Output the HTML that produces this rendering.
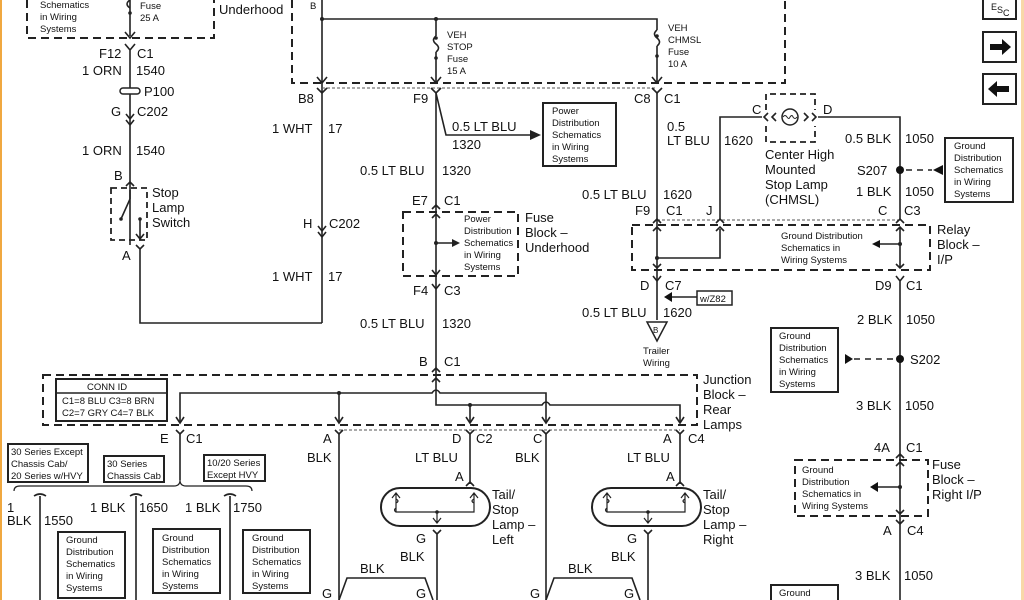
<!DOCTYPE html>
<html><head><meta charset="utf-8"><style>
html,body{margin:0;padding:0;background:#fff;width:1024px;height:600px;overflow:hidden}
svg{display:block}
text{font-family:"Liberation Sans",sans-serif;fill:#111}
.l{font-size:13px}
.s{font-size:9.5px}
.w{stroke:#222;stroke-width:1.6;fill:none}
.d{stroke:#222;stroke-width:2;fill:none;stroke-dasharray:8,5}
.t{stroke:#555;stroke-width:1;fill:none;stroke-dasharray:3,2}
.b{stroke:#222;stroke-width:2;fill:#fff}
</style></head><body>
<svg width="1024" height="600" viewBox="0 0 1024 600" xmlns="http://www.w3.org/2000/svg">
<rect x="0" y="0" width="2" height="600" fill="#f0a840"/>
<rect x="1021" y="0" width="3" height="600" fill="#f8d8a8"/>

<!-- top-left -->
<path class="d" d="M27 0 V38 H214 V0"/>
<text class="s" x="40" y="8">Schematics</text><text class="s" x="40" y="20">in Wiring</text><text class="s" x="40" y="32">Systems</text>
<path class="w" d="M130 0 V36 M125 32 L130 38 L135 32"/>
<path class="w" d="M130 0 q-6 4 0 8" /><circle cx="130" cy="13" r="1.8" fill="#222"/>
<text class="s" x="140" y="9">Fuse</text><text class="s" x="140" y="21">25 A</text>
<text class="l" x="219" y="14">Underhood</text>
<text class="l" x="99" y="58">F12</text><text class="l" x="137" y="58">C1</text>
<path class="w" d="M125 44 L130 50 L135 44 M130 50 V245"/>
<text class="l" x="82" y="75">1 ORN</text><text class="l" x="136" y="75">1540</text>
<rect x="120" y="88" width="20" height="6" rx="3" fill="#fff" stroke="#222" stroke-width="1.5"/>
<text class="l" x="144" y="96">P100</text>
<text class="l" x="111" y="116">G</text><text class="l" x="137" y="116">C202</text>
<path class="w" d="M126 114 L130 119 L134 114 M126 120 L130 125 L134 120"/>
<text class="l" x="82" y="155">1 ORN</text><text class="l" x="136" y="155">1540</text>
<text class="l" x="114" y="180">B</text>
<path class="w" d="M126 186 L130 182 L134 186"/>
<path class="d" style="stroke-width:1.8;stroke-dasharray:6,4" d="M111 188 H147 V240 H111 Z"/>
<path class="w" d="M130 190 V199 M121 219 L130 199 M140 219 V238 M136 234 L140 239 L144 234"/>
<circle cx="121" cy="219" r="1.8" fill="#222"/><circle cx="140" cy="219" r="1.8" fill="#222"/>
<text class="l" x="152" y="197">Stop</text><text class="l" x="152" y="212">Lamp</text><text class="l" x="152" y="227">Switch</text>
<path class="w" d="M136 245 L140 249 L144 245 M140 249 V323 H322"/>
<text class="l" x="122" y="260">A</text>

<!-- underhood box -->
<path class="d" d="M292 0 V83 H785 V0"/>
<text class="s" x="310" y="9">B</text>
<path class="w" d="M322 0 V323 M322 19 H657 V30 M436 19 V36"/>
<circle cx="322" cy="19" r="2" fill="#222"/><circle cx="436" cy="19" r="2" fill="#222"/>
<path class="w" d="M436 36 q-5 4 0 8 q5 4 0 8 M436 52 V82 M431 77 L436 83 L441 77"/>
<circle cx="436" cy="38" r="1.8" fill="#222"/><circle cx="436" cy="58" r="1.8" fill="#222"/>
<text class="s" x="447" y="38">VEH</text><text class="s" x="447" y="50">STOP</text><text class="s" x="447" y="62">Fuse</text><text class="s" x="447" y="74">15 A</text>
<path class="w" d="M657 30 q-5 4 0 8 q5 4 0 8 M657 46 V82 M652 77 L657 83 L662 77"/>
<circle cx="657" cy="36" r="1.8" fill="#222"/><circle cx="657" cy="56" r="1.8" fill="#222"/>
<text class="s" x="668" y="31">VEH</text><text class="s" x="668" y="43">CHMSL</text><text class="s" x="668" y="55">Fuse</text><text class="s" x="668" y="67">10 A</text>
<path class="w" d="M317 77 L322 83 L327 77"/>
<path class="t" d="M322 88 H657"/>
<path class="w" d="M317 88 L322 93 L327 88 M431 88 L436 93 L441 88 M652 88 L657 93 L662 88"/>
<text class="l" x="298" y="103">B8</text><text class="l" x="413" y="103">F9</text>
<text class="l" x="634" y="103">C8</text><text class="l" x="664" y="103">C1</text>
<text class="l" x="272" y="133">1 WHT</text><text class="l" x="328" y="133">17</text>
<!-- F9 -->
<path class="w" d="M436 93 V385 M436 93 L446 135 H530"/>
<path d="M530 130 L541 135 L530 140 Z" fill="#222"/>
<text class="l" x="452" y="131">0.5 LT BLU</text><text class="l" x="452" y="149">1320</text>
<rect x="543" y="103" width="73" height="63" class="b"/>
<text class="s" x="552" y="114">Power</text><text class="s" x="552" y="126">Distribution</text><text class="s" x="552" y="138">Schematics</text><text class="s" x="552" y="150">in Wiring</text><text class="s" x="552" y="162">Systems</text>
<text class="l" x="360" y="175">0.5 LT BLU</text><text class="l" x="442" y="175">1320</text>
<text class="l" x="412" y="205">E7</text><text class="l" x="444" y="205">C1</text>
<path class="w" d="M432 209 L436 205 L440 209"/>
<path class="d" d="M403 212 H518 V276 H403 Z"/>
<path class="w" d="M432 218 L436 214 L440 218 M432 270 L436 275 L440 270 M436 243 H452"/>
<path d="M452 239 L460 243 L452 247 Z" fill="#222"/><circle cx="436" cy="243" r="2" fill="#222"/>
<text class="s" x="464" y="222">Power</text><text class="s" x="464" y="234">Distribution</text><text class="s" x="464" y="246">Schematics</text><text class="s" x="464" y="258">in Wiring</text><text class="s" x="464" y="270">Systems</text>
<text class="l" x="525" y="222">Fuse</text><text class="l" x="525" y="237">Block –</text><text class="l" x="525" y="252">Underhood</text>
<text class="l" x="303" y="228">H</text><text class="l" x="329" y="228">C202</text>
<path class="w" d="M318 226 L322 231 L326 226 M318 232 L322 237 L326 232"/>
<text class="l" x="272" y="281">1 WHT</text><text class="l" x="328" y="281">17</text>
<text class="l" x="413" y="295">F4</text><text class="l" x="444" y="295">C3</text>
<path class="w" d="M432 284 L436 289 L440 284"/>
<text class="l" x="360" y="328">0.5 LT BLU</text><text class="l" x="442" y="328">1320</text>
<text class="l" x="419" y="366">B</text><text class="l" x="444" y="366">C1</text>
<path class="w" d="M432 372 L436 368 L440 372"/>

<!-- junction block -->
<path class="d" d="M43 375 H697 V425 H43 Z"/>
<path class="w" d="M432 382 L436 378 L440 382"/>
<rect x="56" y="379" width="111" height="42" class="b"/>
<path class="w" d="M56 393 H167"/>
<text class="s" x="87" y="390">CONN ID</text>
<text class="s" x="62" y="404">C1=8 BLU  C3=8 BRN</text><text class="s" x="62" y="416">C2=7 GRY C4=7 BLK</text>
<path class="w" d="M180 422 V393 H432 q4 -6 8 0 H546 V422 M436 385 V405 H542 q4 -6 8 0 H680 V422 M339 393 V422 M470 405 V422"/>
<circle cx="339" cy="393" r="2" fill="#222"/><circle cx="470" cy="405" r="2" fill="#222"/>
<path class="w" d="M176 417 L180 423 L184 417 M335 417 L339 423 L343 417 M466 417 L470 423 L474 417 M542 417 L546 423 L550 417 M676 417 L680 423 L684 417"/>
<text class="l" x="703" y="384">Junction</text><text class="l" x="703" y="399">Block –</text><text class="l" x="703" y="414">Rear</text><text class="l" x="703" y="429">Lamps</text>
<path class="t" d="M339 430 H680"/>
<path class="w" d="M176 430 L180 434 L184 430 M335 430 L339 434 L343 430 M466 430 L470 434 L474 430 M542 430 L546 434 L550 430 M676 430 L680 434 L684 430"/>
<text class="l" x="160" y="443">E</text><text class="l" x="186" y="443">C1</text>
<text class="l" x="323" y="443">A</text><text class="l" x="452" y="443">D</text><text class="l" x="476" y="443">C2</text>
<text class="l" x="533" y="443">C</text><text class="l" x="663" y="443">A</text><text class="l" x="688" y="443">C4</text>
<text class="l" x="307" y="462">BLK</text><text class="l" x="415" y="462">LT BLU</text>
<text class="l" x="515" y="462">BLK</text><text class="l" x="627" y="462">LT BLU</text>
<text class="l" x="455" y="481">A</text><text class="l" x="666" y="481">A</text>
<path class="w" d="M180 434 V480 M339 434 V600 M470 434 V484 M546 434 V600 M680 434 V484"/>
<path class="w" d="M466 486 L470 482 L474 486 M676 486 L680 482 L684 486"/>

<!-- lamps -->
<g id="lamp">
<rect x="381" y="488" width="109" height="38" rx="19" fill="none" stroke="#222" stroke-width="2"/>
<path class="w" style="stroke-width:1.2" d="M396 494 V512 H437 M396 512 q-3 -2 0 -4 M396 503 q4 -2 0 -4 M474 494 V512 H437 M474 503 q-4 -2 0 -4 M437 512 V522 M433 518 L437 523 L441 518 M392 498 L396 493 L400 498 M470 498 L474 493 L478 498"/>
<circle cx="437" cy="512" r="1.8" fill="#222"/>
</g>
<use href="#lamp" x="211"/>
<path class="w" d="M433 530 L437 534 L441 530 M437 534 V600 M644 530 L648 534 L652 530 M648 534 V600"/>
<text class="l" x="492" y="499">Tail/</text><text class="l" x="492" y="514">Stop</text><text class="l" x="492" y="529">Lamp –</text><text class="l" x="492" y="544">Left</text>
<text class="l" x="703" y="499">Tail/</text><text class="l" x="703" y="514">Stop</text><text class="l" x="703" y="529">Lamp –</text><text class="l" x="703" y="544">Right</text>
<text class="l" x="416" y="543">G</text><text class="l" x="400" y="561">BLK</text>
<text class="l" x="627" y="543">G</text><text class="l" x="611" y="561">BLK</text>
<path class="w" d="M339 600 L347 578 H425 L433 600 M546 600 L554 578 H632 L640 600"/>
<text class="l" x="360" y="573">BLK</text><text class="l" x="568" y="573">BLK</text>
<text class="l" x="322" y="598">G</text><text class="l" x="416" y="598">G</text>
<text class="l" x="530" y="598">G</text><text class="l" x="624" y="598">G</text>

<!-- bottom left -->
<rect x="8" y="444" width="80" height="38" class="b"/>
<text class="s" x="11" y="455">30 Series Except</text><text class="s" x="11" y="467">Chassis Cab/</text><text class="s" x="11" y="479">20 Series w/HVY</text>
<rect x="104" y="456" width="60" height="26" class="b"/>
<text class="s" x="107" y="467">30 Series</text><text class="s" x="107" y="479">Chassis Cab</text>
<rect x="204" y="455" width="61" height="26" class="b"/>
<text class="s" x="207" y="466">10/20 Series</text><text class="s" x="207" y="478">Except HVY</text>
<path class="w" style="stroke-width:1.2" d="M14 491 Q14 486 20 486 H174 Q180 486 180 480 Q180 486 186 486 H246 Q252 486 252 491"/>
<path class="w" d="M40 600 V496 M34 496 Q40 492 46 496 M136 600 V496 M130 496 Q136 492 142 496 M230 600 V496 M224 496 Q230 492 236 496"/>
<text class="l" x="7" y="512">1</text><text class="l" x="7" y="525">BLK</text><text class="l" x="44" y="525">1550</text>
<text class="l" x="90" y="512">1 BLK</text><text class="l" x="139" y="512">1650</text>
<text class="l" x="185" y="512">1 BLK</text><text class="l" x="233" y="512">1750</text>
<rect x="58" y="532" width="67" height="66" class="b"/>
<text class="s" x="66" y="543">Ground</text><text class="s" x="66" y="555">Distribution</text><text class="s" x="66" y="567">Schematics</text><text class="s" x="66" y="579">in Wiring</text><text class="s" x="66" y="591">Systems</text>
<rect x="153" y="529" width="67" height="64" class="b"/>
<text class="s" x="162" y="541">Ground</text><text class="s" x="162" y="553">Distribution</text><text class="s" x="162" y="565">Schematics</text><text class="s" x="162" y="577">in Wiring</text><text class="s" x="162" y="589">Systems</text>
<rect x="243" y="530" width="67" height="63" class="b"/>
<text class="s" x="252" y="541">Ground</text><text class="s" x="252" y="553">Distribution</text><text class="s" x="252" y="565">Schematics</text><text class="s" x="252" y="577">in Wiring</text><text class="s" x="252" y="589">Systems</text>

<!-- right side -->
<path class="w" d="M657 93 V320"/>
<text class="l" x="667" y="131">0.5</text><text class="l" x="667" y="145">LT BLU</text><text class="l" x="724" y="145">1620</text>
<path class="d" style="stroke-width:1.8;stroke-dasharray:6,4" d="M766 110 V94 H815 V110 M766 126 V142 H815 V126"/>
<circle cx="790" cy="117" r="8" fill="#fff" stroke="#222" stroke-width="1.5"/>
<path class="w" style="stroke-width:1" d="M783 117 q2 -3 4 0 q2 3 3 0 q2 -3 3 0 q2 3 4 0"/>
<path class="w" d="M720 220 V117 H762 M768 113 L764 117 L768 121 M776 113 L772 117 L776 121 M804 113 L808 117 L804 121 M812 113 L816 117 L812 121 M818 117 H900 V220"/>
<text class="l" x="752" y="114">C</text><text class="l" x="823" y="114">D</text>
<text class="l" x="765" y="159">Center High</text><text class="l" x="765" y="174">Mounted</text><text class="l" x="765" y="189">Stop Lamp</text><text class="l" x="765" y="204">(CHMSL)</text>
<text class="l" x="845" y="143">0.5 BLK</text><text class="l" x="905" y="143">1050</text>
<text class="l" x="857" y="175">S207</text><circle cx="900" cy="170" r="4" fill="#111"/>
<path class="d" style="stroke-width:1.5;stroke-dasharray:6,5" d="M906 170 H932"/>
<path d="M943 165 L933 170 L943 175 Z" fill="#111"/>
<text class="l" x="856" y="196">1 BLK</text><text class="l" x="905" y="196">1050</text>
<rect x="945" y="138" width="68" height="64" class="b"/>
<text class="s" x="954" y="149">Ground</text><text class="s" x="954" y="161">Distribution</text><text class="s" x="954" y="173">Schematics</text><text class="s" x="954" y="185">in Wiring</text><text class="s" x="954" y="197">Systems</text>
<text class="l" x="582" y="199">0.5 LT BLU</text><text class="l" x="663" y="199">1620</text>
<text class="l" x="635" y="215">F9</text><text class="l" x="666" y="215">C1</text>
<text class="l" x="706" y="215">J</text><text class="l" x="878" y="215">C</text><text class="l" x="904" y="215">C3</text>
<path class="t" d="M657 220 H900"/>
<path class="w" d="M653 223 L657 219 L661 223 M716 223 L720 219 L724 223 M896 223 L900 219 L904 223"/>
<path class="d" d="M632 225 H930 V270 H632 Z"/>
<path class="w" d="M653 231 L657 227 L661 231 M716 231 L720 227 L724 231 M720 229 V258 H657 M896 231 L900 227 L904 231 M900 227 V268 M896 264 L900 268 L904 264 M653 264 L657 268 L661 264 M900 244 H880"/>
<path d="M880 240 L872 244 L880 248 Z" fill="#111"/>
<circle cx="657" cy="258" r="2" fill="#222"/><circle cx="900" cy="244" r="2" fill="#222"/>
<text class="s" x="781" y="239">Ground Distribution</text><text class="s" x="781" y="251">Schematics in</text><text class="s" x="781" y="263">Wiring Systems</text>
<text class="l" x="937" y="234">Relay</text><text class="l" x="937" y="249">Block –</text><text class="l" x="937" y="264">I/P</text>
<path class="w" d="M653 276 L657 281 L661 276 M896 276 L900 281 L904 276 M900 281 V600"/>
<text class="l" x="640" y="290">D</text><text class="l" x="665" y="290">C7</text>
<text class="l" x="875" y="290">D9</text><text class="l" x="906" y="290">C1</text>
<path class="w" d="M672 297 H697"/><path d="M672 292 L664 297 L672 302 Z" fill="#111"/>
<rect x="697" y="291" width="35" height="14" class="b" style="stroke-width:1.5"/>
<text class="s" x="700" y="302">w/Z82</text>
<text class="l" x="582" y="317">0.5 LT BLU</text><text class="l" x="663" y="317">1620</text>
<path d="M647 322 H667 L657 341 Z" fill="#fff" stroke="#222" stroke-width="1.5"/>
<text x="653" y="333" style="font-size:8px">B</text>
<text class="s" x="643" y="354">Trailer</text><text class="s" x="643" y="366">Wiring</text>
<text class="l" x="857" y="324">2 BLK</text><text class="l" x="906" y="324">1050</text>
<rect x="771" y="328" width="67" height="64" class="b"/>
<text class="s" x="779" y="339">Ground</text><text class="s" x="779" y="351">Distribution</text><text class="s" x="779" y="363">Schematics</text><text class="s" x="779" y="375">in Wiring</text><text class="s" x="779" y="387">Systems</text>
<path d="M845 354 L853 359 L845 364 Z" fill="#111"/>
<path class="d" style="stroke-width:1.5;stroke-dasharray:6,5" d="M854 359 H896"/>
<circle cx="900" cy="359" r="4" fill="#111"/><text class="l" x="910" y="364">S202</text>
<text class="l" x="856" y="410">3 BLK</text><text class="l" x="905" y="410">1050</text>
<text class="l" x="874" y="452">4A</text><text class="l" x="906" y="452">C1</text>
<path class="w" d="M896 458 L900 454 L904 458"/>
<path class="d" d="M795 460 H928 V516 H795 Z"/>
<path class="w" d="M896 466 L900 462 L904 466 M896 510 L900 514 L904 510 M900 487 H878"/>
<path d="M878 482 L870 487 L878 492 Z" fill="#111"/><circle cx="900" cy="487" r="2" fill="#222"/>
<text class="s" x="802" y="473">Ground</text><text class="s" x="802" y="485">Distribution</text><text class="s" x="802" y="497">Schematics in</text><text class="s" x="802" y="509">Wiring Systems</text>
<text class="l" x="932" y="469">Fuse</text><text class="l" x="932" y="484">Block –</text><text class="l" x="932" y="499">Right I/P</text>
<path class="w" d="M896 520 L900 524 L904 520"/>
<text class="l" x="883" y="535">A</text><text class="l" x="907" y="535">C4</text>
<text class="l" x="855" y="580">3 BLK</text><text class="l" x="904" y="580">1050</text>
<rect x="771" y="585" width="67" height="20" class="b"/>
<text class="s" x="779" y="596">Ground</text>

<!-- nav -->
<rect x="983" y="-2" width="33" height="21" class="b"/>
<text x="991" y="10" style="font-size:9px">E</text><text x="997" y="13" style="font-size:9px">S</text><text x="1003" y="16" style="font-size:9px">C</text>
<rect x="983" y="32" width="33" height="30" class="b"/>
<path d="M990 44 H1002 V39 L1011 47 L1002 55 V50 H990 Z" fill="#111"/>
<rect x="983" y="74" width="33" height="30" class="b"/>
<path d="M1009 86 H997 V81 L988 89 L997 97 V92 H1009 Z" fill="#111"/>
</svg>
</body></html>
